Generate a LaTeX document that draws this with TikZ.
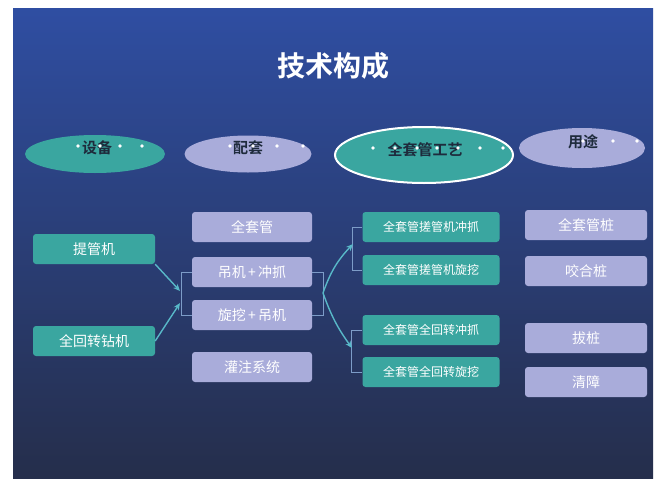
\documentclass[tikz,border=0pt]{standalone}
\usepackage{fontspec}
\setmainfont{Liberation Sans}
\newfontfamily\cjk{Noto Sans CJK SC}
\newfontfamily\cjkb{Noto Sans CJK SC Bold}
\usetikzlibrary{shapes.geometric,arrows.meta}
\definecolor{bgtop}{HTML}{2F4EA2}
\definecolor{bgmid}{HTML}{293D84}
\definecolor{bgbot}{HTML}{252E4B}
\definecolor{tealc}{HTML}{3AA6A0}
\definecolor{lavc}{HTML}{A9ACDA}
\definecolor{ovtxt}{HTML}{1E2B3C}
\definecolor{arrc}{HTML}{58B8C8}
\definecolor{brkc}{HTML}{7D9CC8}
\tikzset{
  oval/.style={ellipse, inner sep=0pt, font=\cjkb\fontsize{15}{15}\selectfont, text=ovtxt},
  box/.style={rounded corners=3pt, minimum height=30pt, inner sep=0pt, text=white, font=\cjk\fontsize{14}{14}\selectfont},
  tbox/.style={box, fill=tealc},
  lbox/.style={box, fill=lavc},
  sbox/.style={tbox, minimum width=137pt, font=\cjk\fontsize{12}{12}\selectfont},
  dot/.style={circle, fill=white, inner sep=0pt, minimum size=3.6pt},
  brk/.style={draw=brkc, line width=0.9pt},
  arr/.style={draw=arrc, line width=1.4pt, -{Stealth[length=7pt,width=6pt]}}
}
\begin{document}
\begin{tikzpicture}[x=1pt,y=-1pt]
\useasboundingbox (0,0) rectangle (661,482);
\fill[white] (0,0) rectangle (661,482);
\shade[top color=bgtop, middle color=bgmid, bottom color=bgbot] (13,8) rectangle (653,478);

\node[font=\cjkb\fontsize{28}{28}\selectfont, text=white] (title) at (333,66) {技术构成};

% header ovals
\node[oval, fill=tealc, minimum width=140pt, minimum height=38pt] (o1) at (95,154) {};
\node[font=\cjkb\fontsize{15}{15}\selectfont, text=ovtxt] (t1) at (97,148) {设备};
\node[oval, fill=lavc, minimum width=127pt, minimum height=37pt] (o2) at (248,154) {};
\node[font=\cjkb\fontsize{15}{15}\selectfont, text=ovtxt] (t2) at (248,148) {配套};
\node[oval, fill=tealc, draw=white, line width=2pt, minimum width=178pt, minimum height=56pt] (o3) at (424,155) {};
\node[font=\cjkb\fontsize{15}{15}\selectfont, text=ovtxt] (t3) at (425,150) {全套管工艺};
\node[oval, fill=lavc, minimum width=126pt, minimum height=40pt] (o4) at (582,148) {};
\node[font=\cjkb\fontsize{15}{15}\selectfont, text=ovtxt] (t4) at (583,142) {用途};

% decorative dots
\foreach \x/\n in {78/a,100/b,120/c,142/d} \node[dot] (d1\n) at (\x,146) {};
\foreach \x/\n in {230/a,253/b,277/c,303/d} \node[dot] (d2\n) at (\x,146) {};
\foreach \x/\n in {373/a,395/b,417/c,437/d,458/e,480/f,503/g} \node[dot] (d3\n) at (\x,148) {};
\foreach \x/\n in {583/a,613/b,637/c} \node[dot] (d4\n) at (\x,141) {};

% column 1
\node[tbox, minimum width=122pt] (a1) at (94,249) {提管机};
\node[tbox, minimum width=122pt] (a2) at (94,341) {全回转钻机};

% column 2
\node[lbox, minimum width=120pt] (b1) at (252,227) {全套管};
\node[lbox, minimum width=120pt] (b2) at (252,272) {吊机\,+\,冲抓};
\node[lbox, minimum width=120pt] (b3) at (252,315) {旋挖\,+\,吊机};
\node[lbox, minimum width=120pt] (b4) at (252,367) {灌注系统};

% column 3
\node[sbox] (c1) at (431,227) {全套管搓管机冲抓};
\node[sbox] (c2) at (431,270) {全套管搓管机旋挖};
\node[sbox] (c3) at (431,330) {全套管全回转冲抓};
\node[sbox] (c4) at (431,372) {全套管全回转旋挖};

% column 4
\node[lbox, minimum width=122pt] (e1) at (586,225) {全套管桩};
\node[lbox, minimum width=122pt] (e2) at (586,271) {咬合桩};
\node[lbox, minimum width=122pt] (e3) at (586,338) {拔桩};
\node[lbox, minimum width=122pt] (e4) at (586,382) {清障};

% brackets
\draw[brk] (b2.west) -- ++(-10,0) |- (b3.west);
\draw[brk] (b2.east) -- ++(11,0) |- (b3.east);
\draw[brk] (c1.west) -- ++(-10,0) |- (c2.west);
\draw[brk] (c3.west) -- ++(-11,0) |- (c4.west);

% arrows
\coordinate (ja) at (180,291);
\coordinate (jb) at (180,303);
\coordinate (jr) at (323,293);
\coordinate (ju) at (353,244);
\coordinate (jd) at (352,348);
\draw[arr] (a1.south east) -- (ja);
\draw[arr] (a2.east) -- (jb);
\draw[arr] (jr) to[bend left=12] (ju);
\draw[arr] (jr) to[bend right=8] (jd);
\end{tikzpicture}
\end{document}
